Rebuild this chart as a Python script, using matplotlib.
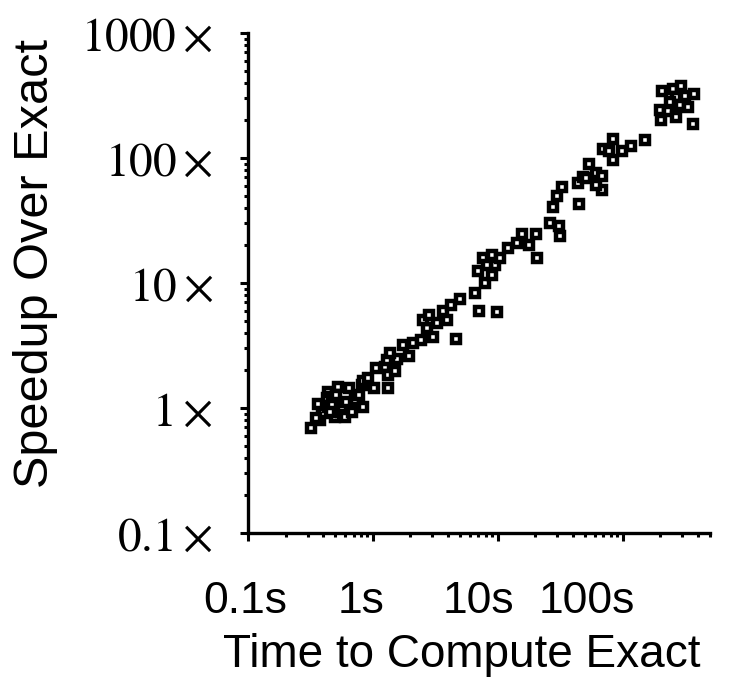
import matplotlib
matplotlib.use('Agg')
import matplotlib.pyplot as plt
from matplotlib.ticker import NullFormatter, LogLocator
from matplotlib.transforms import ScaledTranslation

plt.rcParams['mathtext.fontset'] = 'stix'

# tiempo del calculo exacto (s) y aceleracion obtenida
tiempo = [0.318, 0.389, 0.377, 0.400, 0.439, 0.426, 0.439, 0.468, 0.468, 0.497,
          0.527, 0.555, 0.562, 0.597, 0.605, 0.643, 0.676, 0.718, 0.773, 0.812,
          0.836, 0.836, 0.916, 1.02, 1.06, 1.25, 1.31, 1.33, 1.50, 1.55,
          1.30, 1.37, 1.75, 1.94, 2.10, 2.41, 2.69, 2.52, 2.82, 3.03,
          3.24, 3.65, 3.89, 4.19, 4.67, 4.97, 6.55, 7.05, 9.77, 6.89,
          7.87, 8.91, 9.46, 7.63, 8.91, 10.5, 12.1, 14.3, 15.5, 17.8,
          20.4, 20.6, 26.1, 30.8, 31.3, 27.9, 29.8, 32.4, 44.7, 43.9,
          48.1, 53.5, 61.6, 68.3, 68.3, 61.1, 50.6, 69.2, 83.6, 77.6,
          83.6, 99.5, 117, 150, 208, 253, 291, 265, 313, 370,
          198, 230, 290, 333, 265, 204, 365, 238, 0.350, 0.363,
          0.506, 0.453, 8.17]
speedup = [0.695, 1.01, 0.80, 0.91, 1.02, 1.20, 1.35, 1.23, 1.06, 0.85,
           1.48, 0.92, 1.02, 0.85, 1.12, 1.44, 0.93, 1.16, 1.27, 1.53,
           1.02, 1.64, 1.73, 1.44, 2.10, 2.14, 1.45, 1.84, 1.99, 2.45,
           2.42, 2.74, 3.19, 2.61, 3.33, 3.50, 4.34, 5.06, 5.55, 3.72,
           4.76, 5.92, 5.06, 6.67, 3.56, 7.45, 8.27, 5.97, 5.83, 12.5,
           10.05, 11.6, 13.9, 15.8, 16.7, 15.8, 18.9, 21.0, 24.7, 20.1,
           24.5, 15.8, 30.4, 28.6, 23.9, 40.3, 49.7, 58.9, 42.7, 62.8,
           70.1, 89.5, 75.5, 71.8, 55.5, 60.8, 68.8, 118, 95.9, 114,
           141, 114, 125, 139, 345, 356, 377, 309, 313, 323,
           242, 239, 265, 257, 214, 201, 186, 282, 0.83, 1.08,
           1.27, 0.93, 13.9]

xticks = [0.1, 1, 10, 100]
xtick_labels = ['0.1s', '1s', '10s', '100s']
yticks = [0.1, 1, 10, 100, 1000]
ytick_labels = [r'$0.1\times$', r'$1\times$', r'$10\times$', r'$100\times$', r'$1000\times$']

fig = plt.figure(figsize=(7.45, 6.91), dpi=100)
ax = fig.add_axes([0.3329, 0.2287, 0.6201, 0.7236])

ax.plot(tiempo, speedup, linestyle='none', marker='s', markersize=6.4,
        markerfacecolor='white', markeredgecolor='black', markeredgewidth=3.2,
        clip_on=False)

ax.set_xscale('log')
ax.set_yscale('log')
ax.set_xlim(0.1, 500)
ax.set_ylim(0.1, 1000)

for s in ['top', 'right']:
    ax.spines[s].set_visible(False)
for s in ['left', 'bottom']:
    ax.spines[s].set_linewidth(2.4)

ax.set_xticks(xticks)
ax.set_xticklabels(xtick_labels, family='Liberation Sans', fontsize=32)
ax.set_yticks(yticks)
ax.set_yticklabels(ytick_labels, fontsize=34)
ax.xaxis.set_minor_locator(LogLocator(base=10, subs=range(2, 10)))
ax.yaxis.set_minor_locator(LogLocator(base=10, subs=range(2, 10)))
ax.xaxis.set_minor_formatter(NullFormatter())
ax.yaxis.set_minor_formatter(NullFormatter())

ax.tick_params(axis='both', which='major', direction='out', length=5.8, width=2.2)
ax.tick_params(axis='both', which='minor', direction='out', length=3.2, width=2.2)
ax.tick_params(axis='x', which='major', pad=29)
ax.tick_params(axis='y', which='major', pad=19.5)

# las etiquetas del eje x estan corridas a la izquierda en el original
desplaz = [-3, -12, -19, -36]
for lab, dx in zip(ax.get_xticklabels(), desplaz):
    lab.set_transform(lab.get_transform() + ScaledTranslation(dx / 100.0, 0, fig.dpi_scale_trans))

fig.text(461.5 / 745, 1 - 667 / 691, 'Time to Compute Exact', family='Liberation Sans',
         fontsize=33, ha='center', va='baseline')
fig.text(36 / 745, 1 - 263.5 / 691, 'Speedup Over Exact', family='Liberation Sans',
         fontsize=35, rotation=90, ha='center', va='center')

fig.savefig('out.png', dpi=100)
